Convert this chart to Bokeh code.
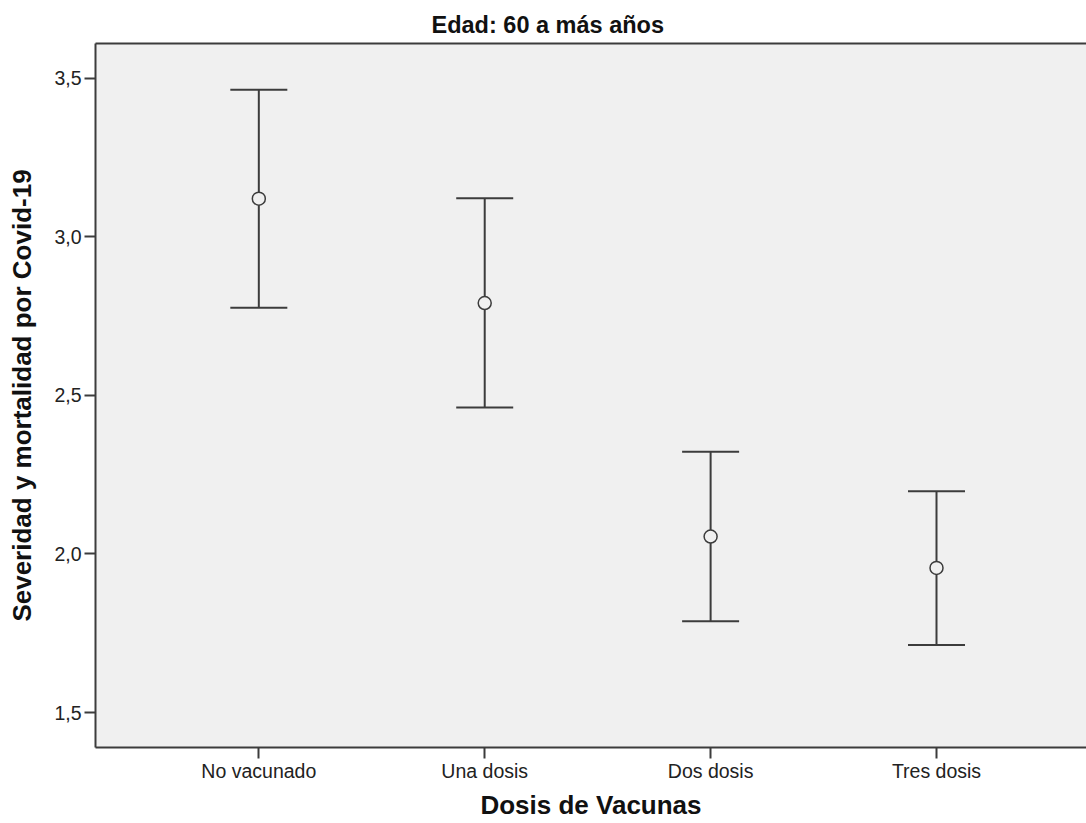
from bokeh.plotting import figure
from bokeh.models import (Whisker, TeeHead, ColumnDataSource, FixedTicker, LinearAxis,
                          Range1d, CustomJSTickFormatter)
from bokeh.embed import file_html
from bokeh.resources import INLINE

categories = ["No vacunado", "Una dosis", "Dos dosis", "Tres dosis"]
means = [3.120, 2.791, 2.055, 1.956]
upper = [3.463, 3.121, 2.322, 2.198]
lower = [2.776, 2.462, 1.788, 1.713]
y_ticks = [1.5, 2.0, 2.5, 3.0, 3.5]
y_tick_labels = ["1,5", "2,0", "2,5", "3,0", "3,5"]

FONT = "Liberation Sans"
DARK = "#3c3c3c"

x = list(range(1, len(categories) + 1))
src = ColumnDataSource(dict(x=x, mean=means, upper=upper, lower=lower))

p = figure(width=1086, height=823,
           x_range=Range1d(0.277, 4.664), y_range=Range1d(1.390, 3.609),
           output_backend="svg", toolbar_location=None,
           min_border_left=95, min_border_right=0, min_border_top=43, min_border_bottom=76,
           title="Edad: 60 a más años")
p.background_fill_color = "#f0f0f0"
p.border_fill_color = "white"
p.outline_line_color = None
p.grid.visible = False

p.title.align = "left"
p.title.offset = 336
p.title.text_font = FONT
p.title.text_font_size = "23.5px"
p.title.text_font_style = "bold"
p.title.text_color = "#111111"
p.title.standoff = 11

xa = p.xaxis[0]
ya = p.yaxis[0]

for ax in (xa, ya):
    ax.axis_line_color = DARK
    ax.axis_line_width = 2
    ax.major_tick_line_color = DARK
    ax.major_tick_line_width = 2
    ax.major_tick_out = 11
    ax.major_tick_in = 0
    ax.minor_tick_line_color = None
    ax.major_label_text_font = FONT
    ax.major_label_text_font_size = "19.5px"
    ax.major_label_text_color = "#222222"
    ax.axis_label_text_font = FONT
    ax.axis_label_text_font_size = "26px"
    ax.axis_label_text_font_style = "bold"
    ax.axis_label_text_color = "#111111"
    ax.major_label_standoff = 3

xa.ticker = FixedTicker(ticks=x)
xa.formatter = CustomJSTickFormatter(args=dict(labels=categories),
                                     code="return labels[Math.round(tick) - 1] || '';")
xa.axis_label = "Dosis de Vacunas"
xa.axis_label_standoff = 5
xa.major_label_standoff = 1

ya.ticker = FixedTicker(ticks=y_ticks)
ya.formatter = CustomJSTickFormatter(args=dict(labels=y_tick_labels, tickvals=y_ticks),
                                     code="const i = tickvals.findIndex(t => Math.abs(t - tick) < 1e-9); return i >= 0 ? labels[i] : '';")
ya.axis_label = "Severidad y mortalidad por Covid-19"
ya.axis_label_standoff = 14

top = LinearAxis(ticker=FixedTicker(ticks=[]), major_tick_out=0, major_tick_in=0,
                 minor_tick_out=0, minor_tick_in=0, major_label_text_font_size="0px",
                 major_label_standoff=0, axis_line_color=DARK, axis_line_width=2,
                 axis_label=None)
p.add_layout(top, "above")

w = Whisker(base="x", upper="upper", lower="lower", source=src,
            line_color=DARK, line_width=2,
            upper_head=TeeHead(size=57, line_color=DARK, line_width=2),
            lower_head=TeeHead(size=57, line_color=DARK, line_width=2))
p.add_layout(w)

p.scatter("x", "mean", source=src, marker="circle", size=13,
          fill_color="#f0f0f0", line_color=DARK, line_width=1.5)

open("out.html", "w").write(file_html(p, INLINE))
